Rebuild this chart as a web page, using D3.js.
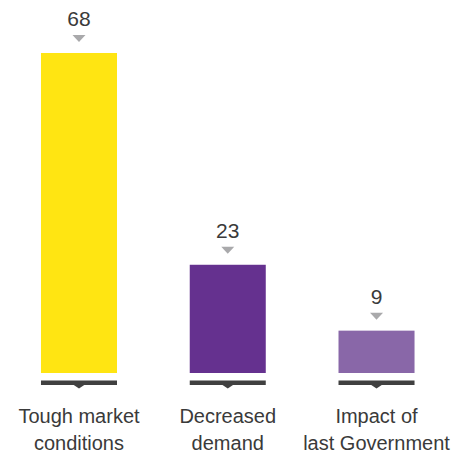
<!DOCTYPE html>
<html>
<head>
<meta charset="utf-8">
<script src="https://cdn.jsdelivr.net/npm/d3@7"></script>
<style>
  html, body { margin: 0; padding: 0; background: #fff; }
  svg { display: block; }
  text { font-family: "Liberation Sans", Arial, Helvetica, sans-serif; }
</style>
</head>
<body>
<svg id="chart" width="466" height="452"></svg>
<script>
// Reasons cited, share of respondents (%)
const categories = ["Tough market conditions", "Decreased demand", "Impact of last Government"];
const categoryLines = [["Tough market", "conditions"], ["Decreased", "demand"], ["Impact of", "last Government"]];
const values = [68, 23, 9];
const barColors = ["#FFE512", "#65318F", "#8967A8"];

const svg = d3.select("#chart");
const baseY = 373;

const x = d3.scaleBand()
  .domain(categories)
  .range([4.6, 450.9])
  .paddingInner(0.489)
  .paddingOuter(0.2445);

const y = d3.scaleLinear()
  .domain([0, 68])
  .range([baseY, 53]);

const g = svg.append("g");

const bars = g.selectAll("g.bar")
  .data(categories.map((c, i) => ({ c, v: values[i], color: barColors[i], lines: categoryLines[i] })))
  .join("g")
  .attr("class", "bar");

// bars
bars.append("rect")
  .attr("x", d => x(d.c))
  .attr("y", d => y(d.v))
  .attr("width", x.bandwidth())
  .attr("height", d => y(0) - y(d.v))
  .attr("fill", d => d.color);

// value pointer triangles
bars.append("path")
  .attr("d", d => {
    const cx = x(d.c) + x.bandwidth() / 2;
    const top = y(d.v);
    return `M${cx - 6.5},${top - 18}L${cx + 6.5},${top - 18}L${cx},${top - 11}Z`;
  })
  .attr("fill", "#a9a9ab");

// value labels
bars.append("text")
  .attr("x", d => x(d.c) + x.bandwidth() / 2)
  .attr("y", d => y(d.v) - 27)
  .attr("text-anchor", "middle")
  .attr("font-size", 21)
  .attr("fill", "#3a3a3a")
  .text(d => d.v);

// base rule under each bar with small notch
bars.append("rect")
  .attr("x", d => x(d.c))
  .attr("y", baseY + 7.5)
  .attr("width", x.bandwidth())
  .attr("height", 4.5)
  .attr("fill", "#404040");

bars.append("path")
  .attr("d", d => {
    const cx = x(d.c) + x.bandwidth() / 2;
    return `M${cx - 6},${baseY + 11.5}L${cx + 6},${baseY + 11.5}L${cx},${baseY + 15.5}Z`;
  })
  .attr("fill", "#404040");

// category labels
bars.append("text")
  .attr("text-anchor", "middle")
  .attr("font-size", 20)
  .attr("fill", "#3a3a3a")
  .selectAll("tspan")
  .data(d => d.lines.map(l => ({ l, cx: x(d.c) + x.bandwidth() / 2 })))
  .join("tspan")
  .attr("x", t => t.cx)
  .attr("y", (t, i) => 423 + i * 27)
  .text(t => t.l);
</script>
</body>
</html>
